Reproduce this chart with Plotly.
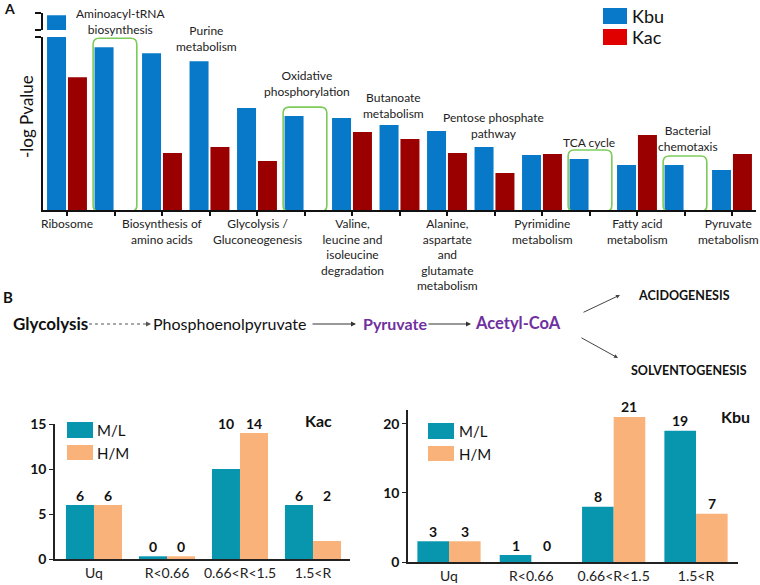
import plotly.graph_objects as go

# ---------------- data ----------------
pathways = ["Ribosome", "Aminoacyl-tRNA biosynthesis", "Biosynthesis of amino acids",
            "Purine metabolism", "Glycolysis / Gluconeogenesis", "Oxidative phosphorylation",
            "Valine, leucine and isoleucine degradation", "Butanoate metabolism",
            "Alanine, aspartate and glutamate metabolism", "Pentose phosphate pathway",
            "Pyrimidine metabolism", "TCA cycle", "Fatty acid metabolism",
            "Bacterial chemotaxis", "Pyruvate metabolism"]
kbu_logp = [30.0, 16.3, 15.7, 14.9, 10.2, 9.4, 9.2, 8.5, 7.9, 6.3, 5.5, 5.1, 4.5, 4.5, 4.0]
kac_logp = [13.3, None, 5.7, 6.3, 4.9, None, 7.8, 7.1, 5.7, 3.7, 5.6, None, 7.5, None, 5.6]

# labels drawn under the axis (even positions) and above bars (odd positions)
below_labels = {0: "Ribosome", 2: "Biosynthesis of<br>amino acids", 4: "Glycolysis /<br>Gluconeogenesis",
                6: "Valine,<br>leucine and<br>isoleucine<br>degradation",
                8: "Alanine,<br>aspartate<br>and<br>glutamate<br>metabolism",
                10: "Pyrimidine<br>metabolism", 12: "Fatty acid<br>metabolism", 14: "Pyruvate<br>metabolism"}
above_labels = {1: "Aminoacyl-tRNA<br>biosynthesis", 3: "Purine<br>metabolism",
                5: "Oxidative<br>phosphorylation", 7: "Butanoate<br>metabolism",
                9: "Pentose phosphate<br>pathway", 11: "TCA cycle", 13: "Bacterial<br>chemotaxis"}

ratio_cats = ["Uq", "R<0.66", "0.66<R<1.5", "1.5<R"]
kac_ml = [6, 0, 10, 6]
kac_hm = [6, 0, 14, 2]
kbu_ml = [3, 1, 8, 19]
kbu_hm = [3, 0, 21, 7]

# ---------------- styling ----------------
W, H = 760, 585
FONT = "Lato, 'Open Sans', sans-serif"
BLUE = "#0878C8"
DRED = "#9A0000"
LRED = "#E10000"
TEAL = "#0896AF"
ORANGE = "#FAB27B"
GREEN = "#7DCB5A"
PURPLE = "#7030A0"
LBL = 12


def px(x):
    return x / W


def py(y):
    return 1 - y / H


fig = go.Figure()
xs = list(range(len(pathways)))

# Panel A main bars
fig.add_trace(go.Bar(x=xs, y=kbu_logp, name="Kbu", marker=dict(color=BLUE, line=dict(width=0)),
                     width=0.4, offset=-0.42, xaxis="x", yaxis="y", showlegend=False,
                     hovertext=pathways))
fig.add_trace(go.Bar(x=xs, y=kac_logp, name="Kac", marker=dict(color=DRED, line=dict(width=0)),
                     width=0.4, offset=0.02, xaxis="x", yaxis="y", showlegend=False,
                     hovertext=pathways))
# Broken-axis top piece
fig.add_trace(go.Bar(x=xs, y=kbu_logp, marker=dict(color=BLUE, line=dict(width=0)),
                     width=0.4, offset=-0.42, xaxis="x2", yaxis="y2", showlegend=False))
fig.add_trace(go.Bar(x=xs, y=kac_logp, marker=dict(color=DRED, line=dict(width=0)),
                     width=0.4, offset=0.02, xaxis="x2", yaxis="y2", showlegend=False))

# Panel B bars
kac_ml_draw = [v if v > 0 else 0.3 for v in kac_ml]
kac_hm_draw = [v if v > 0 else 0.3 for v in kac_hm]
fig.add_trace(go.Bar(x=ratio_cats, y=kac_ml_draw, marker=dict(color=TEAL, line=dict(width=0)),
                     width=0.384, offset=-0.384, xaxis="x3", yaxis="y3", showlegend=False))
fig.add_trace(go.Bar(x=ratio_cats, y=kac_hm_draw, marker=dict(color=ORANGE, line=dict(width=0)),
                     width=0.384, offset=0, xaxis="x3", yaxis="y3", showlegend=False))
fig.add_trace(go.Bar(x=ratio_cats, y=kbu_ml, marker=dict(color=TEAL, line=dict(width=0)),
                     width=0.384, offset=-0.384, xaxis="x4", yaxis="y4", showlegend=False))
fig.add_trace(go.Bar(x=ratio_cats, y=kbu_hm, marker=dict(color=ORANGE, line=dict(width=0)),
                     width=0.384, offset=0, xaxis="x4", yaxis="y4", showlegend=False))

annotations = []
shapes = []

# ----- Panel A decorations -----
below_shift = {14: -4}
for i, t in below_labels.items():
    annotations.append(dict(x=i, y=0, xref="x", yref="y", text=t, showarrow=False,
                            yanchor="top", yshift=-4, xshift=below_shift.get(i, 0), align="center",
                            font=dict(size=LBL, color="#222", family=FONT)))
above_pos = {1: (6, 21.5), 3: (-3, 39), 5: (2, 83.5), 7: (-6, 105.5), 9: (-1, 125),
             11: (-1, 142), 13: (3, 138.5)}
for i, t in above_labels.items():
    dx, yc = above_pos[i]
    annotations.append(dict(x=i, y=py(yc), xref="x", yref="paper", text=t, showarrow=False,
                            xshift=dx, yanchor="middle", align="center",
                            font=dict(size=LBL, color="#222", family=FONT)))

# green highlight boxes around Kbu-only pathways
for i, (b, c) in enumerate(zip(kbu_logp, kac_logp)):
    if c is None:
        x0, x1, y0, y1 = i - 0.45, i + 0.47, -0.15, b + 0.9
        rx, ry = 0.13, 0.6
        path = (f"M {x0+rx},{y0} L {x1-rx},{y0} Q {x1},{y0} {x1},{y0+ry} L {x1},{y1-ry} "
                f"Q {x1},{y1} {x1-rx},{y1} L {x0+rx},{y1} Q {x0},{y1} {x0},{y1-ry} "
                f"L {x0},{y0+ry} Q {x0},{y0} {x0+rx},{y0} Z")
        shapes.append(dict(type="path", path=path, xref="x", yref="y",
                           line=dict(color=GREEN, width=1.6)))

# Panel A legend
shapes.append(dict(type="rect", xref="paper", yref="paper", x0=px(603), x1=px(627),
                   y0=py(24), y1=py(8), fillcolor=BLUE, line=dict(width=0)))
shapes.append(dict(type="rect", xref="paper", yref="paper", x0=px(603), x1=px(627),
                   y0=py(45), y1=py(29), fillcolor=LRED, line=dict(width=0)))
annotations.append(dict(x=px(630), y=py(16), xref="paper", yref="paper", text="Kbu",
                        showarrow=False, xanchor="left", yanchor="middle",
                        font=dict(size=18, color="#111", family=FONT)))
annotations.append(dict(x=px(630), y=py(37), xref="paper", yref="paper", text="Kac",
                        showarrow=False, xanchor="left", yanchor="middle",
                        font=dict(size=18, color="#111", family=FONT)))

# y title & panel letters
annotations.append(dict(x=px(27), y=py(117), xref="paper", yref="paper", text="-log Pvalue",
                        showarrow=False, textangle=-90, xanchor="center", yanchor="middle",
                        font=dict(size=17, color="#111", family=FONT)))
annotations.append(dict(x=px(2), y=py(9), xref="paper", yref="paper", text="<b>A</b>",
                        showarrow=False, xanchor="left", yanchor="middle",
                        font=dict(size=14, color="#111", family=FONT)))
annotations.append(dict(x=px(1), y=py(297), xref="paper", yref="paper", text="<b>B</b>",
                        showarrow=False, xanchor="left", yanchor="middle",
                        font=dict(size=15, color="#111", family=FONT)))

# ----- Pathway scheme -----
yc = 323
annotations.append(dict(x=px(11), y=py(yc), xref="paper", yref="paper", text="<b>Glycolysis</b>",
                        showarrow=False, xanchor="left", yanchor="middle",
                        font=dict(size=17, color="#111", family=FONT)))
shapes.append(dict(type="line", xref="paper", yref="paper", x0=px(89), x1=px(147),
                   y0=py(yc + 1), y1=py(yc + 1), line=dict(color="#555", width=1, dash="dot")))
annotations.append(dict(x=px(151), y=py(yc + 1), xref="paper", yref="paper", text="",
                        showarrow=True, ax=-6, ay=0, arrowhead=2, arrowsize=1, arrowwidth=1,
                        arrowcolor="#555"))
annotations.append(dict(x=px(151), y=py(yc), xref="paper", yref="paper", text="Phosphoenolpyruvate",
                        showarrow=False, xanchor="left", yanchor="middle",
                        font=dict(size=16, color="#111", family=FONT)))
annotations.append(dict(x=px(356), y=py(yc + 1), xref="paper", yref="paper", text="",
                        showarrow=True, ax=-45, ay=0, arrowhead=2, arrowsize=1, arrowwidth=1,
                        arrowcolor="#333"))
annotations.append(dict(x=px(361), y=py(yc), xref="paper", yref="paper", text="<b>Pyruvate</b>",
                        showarrow=False, xanchor="left", yanchor="middle",
                        font=dict(size=16, color=PURPLE, family=FONT)))
annotations.append(dict(x=px(471), y=py(yc + 1), xref="paper", yref="paper", text="",
                        showarrow=True, ax=-44, ay=0, arrowhead=2, arrowsize=1, arrowwidth=1,
                        arrowcolor="#333"))
annotations.append(dict(x=px(473), y=py(yc), xref="paper", yref="paper", text="<b>Acetyl-CoA</b>",
                        showarrow=False, xanchor="left", yanchor="middle",
                        font=dict(size=16.5, color=PURPLE, family=FONT)))
annotations.append(dict(x=px(620), y=py(295), xref="paper", yref="paper", text="",
                        showarrow=True, ax=-38, ay=18, arrowhead=2, arrowsize=0.8, arrowwidth=1,
                        arrowcolor="#444"))
annotations.append(dict(x=px(618), y=py(358), xref="paper", yref="paper", text="",
                        showarrow=True, ax=-38, ay=-21, arrowhead=2, arrowsize=0.8, arrowwidth=1,
                        arrowcolor="#444"))
annotations.append(dict(x=px(636), y=py(295), xref="paper", yref="paper", text="<b>ACIDOGENESIS</b>",
                        showarrow=False, xanchor="left", yanchor="middle",
                        font=dict(size=12.5, color="#111", family=FONT)))
annotations.append(dict(x=px(629), y=py(370), xref="paper", yref="paper", text="<b>SOLVENTOGENESIS</b>",
                        showarrow=False, xanchor="left", yanchor="middle",
                        font=dict(size=12.5, color="#111", family=FONT)))


# ----- Panel B value labels -----
def value_labels(ml, hm, xa, ya, pair_level):
    for k, cat in enumerate(ratio_cats):
        for v, off, other in ((ml[k], -0.192, hm[k]), (hm[k], 0.192, ml[k])):
            level = max(v, other) if (pair_level or v == 0) else v
            level = max(level, 0.3)
            annotations.append(dict(x=k + off, y=level, xref=xa, yref=ya, text=f"<b>{v}</b>",
                                    showarrow=False, yanchor="middle", yshift=10,
                                    font=dict(size=14, color="#111", family=FONT)))


value_labels(kac_ml, kac_hm, "x3", "y3", True)
value_labels(kbu_ml, kbu_hm, "x4", "y4", False)

# Panel B legends & titles
for (sx, sy1, sy2, tx) in ((67, 422, 445, 95), (428, 423, 446, 457)):
    shapes.append(dict(type="rect", xref="paper", yref="paper", x0=px(sx), x1=px(sx + 26),
                       y0=py(sy1 + 16), y1=py(sy1), fillcolor=TEAL, line=dict(width=0)))
    shapes.append(dict(type="rect", xref="paper", yref="paper", x0=px(sx), x1=px(sx + 26),
                       y0=py(sy2 + 15), y1=py(sy2), fillcolor=ORANGE, line=dict(width=0)))
    annotations.append(dict(x=px(tx), y=py(sy1 + 8), xref="paper", yref="paper", text="M/L",
                            showarrow=False, xanchor="left", yanchor="middle",
                            font=dict(size=15, color="#111", family=FONT)))
    annotations.append(dict(x=px(tx), y=py(sy2 + 8), xref="paper", yref="paper", text="H/M",
                            showarrow=False, xanchor="left", yanchor="middle",
                            font=dict(size=15, color="#111", family=FONT)))
annotations.append(dict(x=px(318), y=py(420), xref="paper", yref="paper", text="<b>Kac</b>",
                        showarrow=False, xanchor="center", yanchor="middle",
                        font=dict(size=16, color="#111", family=FONT)))
annotations.append(dict(x=px(735), y=py(416), xref="paper", yref="paper", text="<b>Kbu</b>",
                        showarrow=False, xanchor="center", yanchor="middle",
                        font=dict(size=16, color="#111", family=FONT)))

axA = dict(showgrid=False, zeroline=False, showline=True, linecolor="#111", linewidth=2,
           automargin=False)
axB = dict(showgrid=False, zeroline=False, showline=True, linecolor="#222", linewidth=1.5,
           automargin=False)

fig.update_layout(
    width=W, height=H, autosize=False,
    margin=dict(l=0, r=0, t=0, b=0, pad=0, autoexpand=False),
    paper_bgcolor="white", plot_bgcolor="white",
    font=dict(family=FONT, color="#111"),
    barmode="overlay",
    xaxis=dict(domain=[px(43.25), px(755.75)], range=[-0.5, 14.5], anchor="y",
               tickvals=xs, ticks="outside", ticklen=4, tickwidth=1.5, tickcolor="#111",
               showticklabels=False, **axA),
    yaxis=dict(domain=[py(210), py(37)], range=[0, 17.32], anchor="x",
               tickvals=[17.3], ticks="outside", ticklen=6, tickwidth=2, tickcolor="#111",
               showticklabels=False, **axA),
    xaxis2=dict(domain=[px(43.25), px(755.75)], range=[-0.5, 14.5], anchor="y2",
                matches="x", visible=False, automargin=False),
    yaxis2=dict(domain=[py(30), py(13)], range=[28, 30.3], anchor="x2",
                tickvals=[28.02, 30.28], ticks="outside", ticklen=6, tickwidth=2, tickcolor="#111",
                showticklabels=False, **axA),
    xaxis3=dict(domain=[px(55), px(350)], range=[-0.534, 3.507], anchor="y3",
                ticks="", tickfont=dict(size=14, color="#222", family=FONT), **axB),
    yaxis3=dict(domain=[py(559), py(424)], range=[0, 15], anchor="x3",
                tickvals=[0, 5, 10, 15], ticks="outside", ticklen=4, tickwidth=1.2,
                tickcolor="#222",
                tickfont=dict(size=14, color="#111", family=FONT, weight="bold"), **axB),
    xaxis4=dict(domain=[px(408), px(738)], range=[-0.498, 3.51], anchor="y4",
                ticks="", tickfont=dict(size=14, color="#222", family=FONT), **axB),
    yaxis4=dict(domain=[py(562), py(410)], range=[0, 22.0], anchor="x4",
                tickvals=[0, 10, 20], ticks="outside", ticklen=4, tickwidth=1.2,
                tickcolor="#222",
                tickfont=dict(size=14, color="#111", family=FONT, weight="bold"), **axB),
    annotations=annotations,
    shapes=shapes,
)

fig.write_html("out.html", config={"displayModeBar": False},
               post_script="document.body.style.margin='0px';")
